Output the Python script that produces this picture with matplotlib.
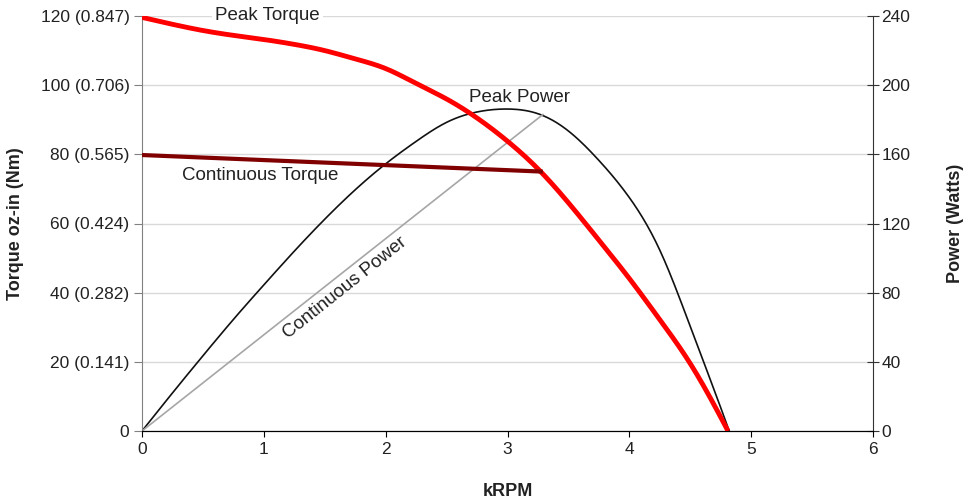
import matplotlib
matplotlib.use("Agg")
import matplotlib.pyplot as plt
import numpy as np

plt.rcParams['font.family'] = ['Liberation Sans', 'DejaVu Sans']

# Data
peak_torque_x = [0.0, 0.25, 0.5, 0.75, 1.0, 1.25, 1.5, 1.75, 2.0, 2.25, 2.5, 2.75, 3.0, 3.25, 3.5, 3.75, 4.0, 4.25, 4.5, 4.75, 4.81]
peak_torque_y = [119.6, 117.6, 115.8, 114.4, 113.2, 111.8, 110.0, 107.6, 104.8, 100.5, 96.0, 90.5, 83.8, 75.8, 66.0, 55.2, 44.1, 32.2, 19.5, 4.0, 0.0]

cont_torque_x = [0.0, 3.29]
cont_torque_y = [79.8, 75.0]

peak_power_x = [0.0, 0.25, 0.5, 0.75, 1.0, 1.25, 1.5, 1.75, 2.0, 2.25, 2.5, 2.75, 3.0, 3.25, 3.5, 3.75, 4.0, 4.25, 4.5, 4.75, 4.82]
peak_power_y = [0.0, 22.0, 43.5, 64.5, 84.5, 104.0, 122.5, 139.5, 154.5, 167.5, 178.5, 184.5, 186.2, 183.5, 173.5, 156.5, 135.0, 104.6, 60.5, 13.5, 0.0]

cont_power_x = [0.0, 3.29]
cont_power_y = [0.0, 183.0]

x_ticks = [0, 1, 2, 3, 4, 5, 6]
left_ticks = [0, 20, 40, 60, 80, 100, 120]
left_labels = ['0', '20 (0.141)', '40 (0.282)', '60 (0.424)', '80 (0.565)', '100 (0.706)', '120 (0.847)']
right_ticks = [0, 40, 80, 120, 160, 200, 240]


def smooth(xs, ys, n=400):
    """Natural cubic spline through the read points, for smooth drawing."""
    xs = np.asarray(xs, float); ys = np.asarray(ys, float)
    k = len(xs)
    h = np.diff(xs)
    A = np.zeros((k, k)); b = np.zeros(k)
    A[0, 0] = 1; A[-1, -1] = 1
    for i in range(1, k - 1):
        A[i, i - 1] = h[i - 1]
        A[i, i] = 2 * (h[i - 1] + h[i])
        A[i, i + 1] = h[i]
        b[i] = 6 * ((ys[i + 1] - ys[i]) / h[i] - (ys[i] - ys[i - 1]) / h[i - 1])
    M = np.linalg.solve(A, b)
    t = np.linspace(xs[0], xs[-1], n)
    out = np.empty_like(t)
    for j, tt in enumerate(t):
        i = min(np.searchsorted(xs, tt, side='right') - 1, k - 2)
        a = xs[i + 1] - tt; c = tt - xs[i]
        out[j] = (M[i] * a**3 + M[i + 1] * c**3) / (6 * h[i]) \
            + (ys[i] / h[i] - M[i] * h[i] / 6) * a + (ys[i + 1] / h[i] - M[i + 1] * h[i] / 6) * c
    return t, out


fig = plt.figure(figsize=(9.65, 5.04), dpi=100)
ax = fig.add_axes([142 / 965, 1 - 431 / 504, (873 - 142) / 965, (431 - 16) / 504])
ax2 = ax.twinx()

ax.set_xlim(0, 6)
ax.set_ylim(0, 120)
ax2.set_ylim(0, 240)

ax.set_yticks(left_ticks)
ax.set_yticklabels(left_labels)
ax2.set_yticks(right_ticks)
ax.set_xticks(x_ticks)
ax.set_xticklabels([str(v) for v in x_ticks])
for lbl in ax.get_xticklabels():
    if lbl.get_text() == '3':
        lbl.set_fontsize(8)
        lbl.set_color('#555555')

ax.grid(False)
ax2.grid(axis='y', color='#d9d9d9', linewidth=1)
ax2.set_axisbelow(True)

for a in (ax, ax2):
    a.spines['top'].set_visible(False)
ax.spines['left'].set_color('#808080')
ax.spines['right'].set_visible(False)
ax2.spines['left'].set_visible(False)
ax2.spines['right'].set_color('#333333')
ax2.spines['bottom'].set_color('black')
ax.spines['bottom'].set_color('black')

ax.tick_params(axis='y', direction='out', length=6, color='#808080', labelsize=12.5, labelcolor='#222222', pad=3)
ax.tick_params(axis='x', direction='out', length=4, color='black', labelsize=12.5, labelcolor='#222222', pad=4)
ax2.tick_params(axis='y', direction='inout', length=8, color='#333333', labelsize=12.5, labelcolor='#222222', pad=2)

# power curves (right axis)
px, py = smooth(peak_power_x, peak_power_y)
ax2.plot(px, py, color='#111111', linewidth=1.2, zorder=3)
ax2.plot(cont_power_x, cont_power_y, color='#a6a6a6', linewidth=1.2, zorder=3)

ax.set_zorder(ax2.get_zorder() + 1)
ax.patch.set_visible(False)

# torque curves (left axis)
tx, ty = smooth(peak_torque_x, peak_torque_y)
ax.plot(tx, ty, color='#ff0000', linewidth=3.5, zorder=4, solid_capstyle='butt')
ax.plot(cont_torque_x, cont_torque_y, color='#800000', linewidth=3, zorder=4, solid_capstyle='butt')

# labels
ax.text(1.03, 120, 'Peak Torque', ha='center', va='center', fontsize=13.5, color='#222222',
        bbox=dict(facecolor='white', edgecolor='none', pad=2), zorder=5)
ax2.text(3.10, 193, 'Peak Power', ha='center', va='center', fontsize=13.5, color='#222222', zorder=5)
ax.text(0.97, 74.0, 'Continuous Torque', ha='center', va='center', fontsize=13.5, color='#222222', zorder=5)
ax2.text(1.67, 82.7, 'Continuous Power', ha='center', va='center', fontsize=13.5, color='#222222',
         rotation=38.5, rotation_mode='anchor', zorder=5)

ax.set_ylabel('Torque oz-in (Nm)', fontsize=13, fontweight='bold', color='#222222', va='center')
ax.yaxis.set_label_coords((16 - 142) / 731, 0.5)
ax2.set_ylabel('Power (Watts)', fontsize=13, fontweight='bold', color='#222222', va='center')
ax2.yaxis.set_label_coords((955 - 142) / 731, 0.5)
ax.set_xlabel('kRPM', fontsize=13, fontweight='bold', color='#222222', va='center')
ax.xaxis.set_label_coords(0.5, (431 - 492) / 415)

fig.savefig('out.png', dpi=100)
